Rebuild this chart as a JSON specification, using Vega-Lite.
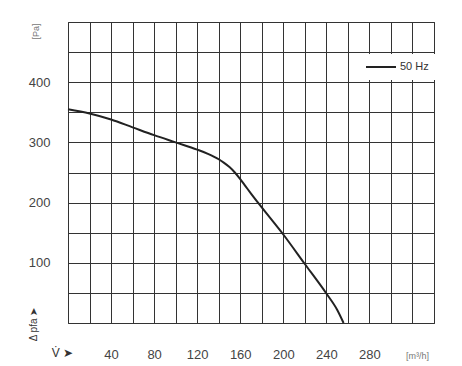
{
  "$schema": "https://vega.github.io/schema/vega-lite/v6.json",
  "width": 366,
  "height": 301,
  "autosize": "none",
  "padding": {"left": 68, "top": 22, "right": 28, "bottom": 43},
  "background": "white",
  "config": {"view": {"stroke": "#333", "strokeWidth": 1}, "font": "Liberation Sans"},
  "data": {"values": [
    {"flow": 0, "pa": 355, "series": "50 Hz"},
    {"flow": 20, "pa": 348, "series": "50 Hz"},
    {"flow": 40, "pa": 338, "series": "50 Hz"},
    {"flow": 60, "pa": 325, "series": "50 Hz"},
    {"flow": 80, "pa": 312, "series": "50 Hz"},
    {"flow": 100, "pa": 300, "series": "50 Hz"},
    {"flow": 120, "pa": 288, "series": "50 Hz"},
    {"flow": 130, "pa": 281, "series": "50 Hz"},
    {"flow": 140, "pa": 272, "series": "50 Hz"},
    {"flow": 145, "pa": 266, "series": "50 Hz"},
    {"flow": 150, "pa": 259, "series": "50 Hz"},
    {"flow": 155, "pa": 250, "series": "50 Hz"},
    {"flow": 160, "pa": 239, "series": "50 Hz"},
    {"flow": 165, "pa": 227, "series": "50 Hz"},
    {"flow": 170, "pa": 215, "series": "50 Hz"},
    {"flow": 180, "pa": 192, "series": "50 Hz"},
    {"flow": 200, "pa": 147, "series": "50 Hz"},
    {"flow": 220, "pa": 98, "series": "50 Hz"},
    {"flow": 240, "pa": 49, "series": "50 Hz"},
    {"flow": 250, "pa": 22, "series": "50 Hz"},
    {"flow": 256, "pa": 0, "series": "50 Hz"}
  ]},
  "layer": [
    {
      "mark": {"type": "line", "interpolate": "monotone", "strokeWidth": 2},
      "encoding": {
        "x": {
          "field": "flow", "type": "quantitative",
          "scale": {"domain": [0, 340], "nice": false, "zero": false},
          "axis": {
            "orient": "bottom",
            "values": [0, 20, 40, 60, 80, 100, 120, 140, 160, 180, 200, 220, 240, 260, 280, 300, 320, 340],
            "labelExpr": "datum.value % 40 == 0 && datum.value >= 40 && datum.value <= 280 ? datum.label : ''",
            "grid": true, "gridColor": "#333", "gridOpacity": 1, "gridWidth": 1,
            "ticks": false, "domain": false,
            "labelFontSize": 13, "labelColor": "#444", "labelPadding": 25, "labelFlush": false, "labelDx": 1,
            "title": "V̇ ➤", "titleX": -6, "titleY": 29, "titleAlign": "center", "titleBaseline": "middle",
            "titleFontSize": 12, "titleFontWeight": "normal", "titleColor": "#333"
          }
        },
        "y": {
          "field": "pa", "type": "quantitative",
          "scale": {"domain": [0, 500], "nice": false, "zero": true},
          "axis": {
            "orient": "left",
            "values": [0, 50, 100, 150, 200, 250, 300, 350, 400, 450, 500],
            "labelExpr": "datum.value % 100 == 0 && datum.value >= 100 && datum.value <= 400 ? datum.label : ''",
            "grid": true, "gridColor": "#333", "gridOpacity": 1, "gridWidth": 1,
            "ticks": false, "domain": false,
            "labelFontSize": 13, "labelColor": "#444", "labelPadding": 18,
            "title": "[Pa]", "titleX": -33, "titleY": 9, "titleAngle": -90, "titleAlign": "center", "titleBaseline": "middle",
            "titleFontSize": 9, "titleFontWeight": "normal", "titleColor": "#777"
          }
        },
        "color": {
          "field": "series", "type": "nominal",
          "scale": {"range": ["#222"]},
          "legend": {
            "orient": "none", "legendX": 290, "legendY": 32, "fillColor": "white", "padding": 7,
            "title": null, "symbolType": "stroke", "symbolSize": 900, "symbolStrokeWidth": 2, "clipHeight": 12,
            "labelFontSize": 11, "labelColor": "#333", "labelOffset": 3
          }
        }
      }
    },
    {
      "mark": {"type": "line", "strokeOpacity": 0},
      "encoding": {
        "x": {
          "field": "flow", "type": "quantitative",
          "scale": {"domain": [0, 340], "nice": false, "zero": false},
          "axis": {
            "orient": "bottom", "labels": false, "ticks": false, "domain": false, "grid": false,
            "title": "[m³/h]", "titleX": 349, "titleY": 32, "titleAlign": "center", "titleBaseline": "middle",
            "titleFontSize": 9, "titleFontWeight": "normal", "titleColor": "#777"
          }
        },
        "y": {
          "field": "pa", "type": "quantitative",
          "scale": {"domain": [0, 500], "nice": false, "zero": true},
          "axis": {
            "orient": "left", "labels": false, "ticks": false, "domain": false, "grid": false,
            "title": "Δ pfa ➤", "titleX": -35, "titleY": 302, "titleAngle": -90, "titleAlign": "center", "titleBaseline": "middle",
            "titleFontSize": 10, "titleFontWeight": "normal", "titleColor": "#333"
          }
        }
      }
    }
  ],
  "resolve": {"scale": {"x": "independent", "y": "independent"}, "axis": {"x": "independent", "y": "independent"}}
}
